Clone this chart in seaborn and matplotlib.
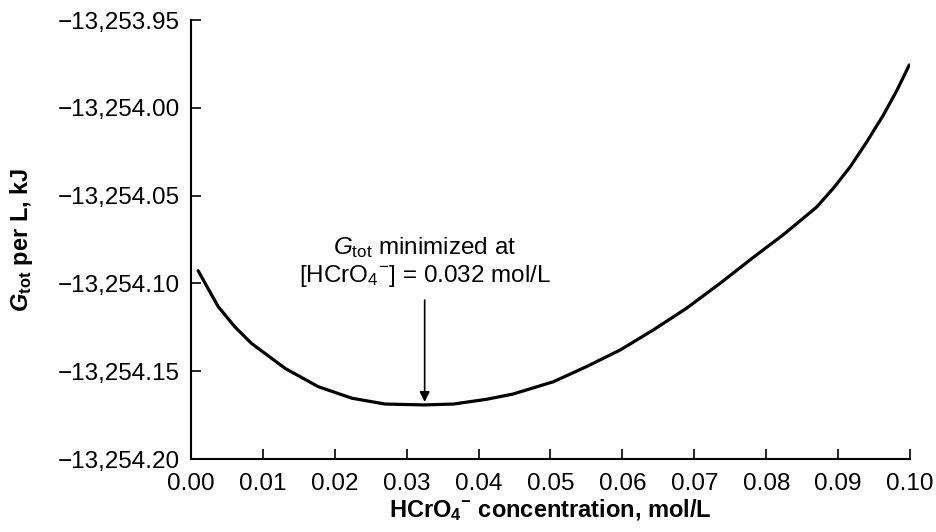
import matplotlib
matplotlib.use("Agg")
import matplotlib.pyplot as plt
from matplotlib.ticker import FuncFormatter, FixedLocator
import seaborn as sns
import pandas as pd

# Data
conc = [0.0010, 0.0038, 0.0061, 0.0084, 0.0131, 0.0177, 0.0224, 0.0270, 0.0325,
        0.0365, 0.0411, 0.0448, 0.0504, 0.0550, 0.0597, 0.0643, 0.0689, 0.0736,
        0.0782, 0.0824, 0.0870, 0.0893, 0.0917, 0.0940, 0.0963, 0.0982, 0.0999]
g_tot = [-13254.0928, -13254.1133, -13254.1247, -13254.1341, -13254.1484,
         -13254.1588, -13254.1654, -13254.1687, -13254.1692, -13254.1687,
         -13254.1660, -13254.1630, -13254.1560, -13254.1474, -13254.1379,
         -13254.1265, -13254.1142, -13254.0999, -13254.0852, -13254.0722,
         -13254.0566, -13254.0460, -13254.0335, -13254.0193, -13254.0041,
         -13253.9899, -13253.9756]
x_ticks = [0.00, 0.01, 0.02, 0.03, 0.04, 0.05, 0.06, 0.07, 0.08, 0.09, 0.10]
y_ticks = [-13254.20, -13254.15, -13254.10, -13254.05, -13254.00, -13253.95]
min_x = 0.0325
min_y = -13254.1692

sns.set_theme(style="ticks")
plt.rcParams["font.family"] = ["Liberation Sans", "DejaVu Sans"]
plt.rcParams["mathtext.fontset"] = "custom"
plt.rcParams["mathtext.rm"] = "Liberation Sans"
plt.rcParams["mathtext.it"] = "Liberation Sans:italic"
plt.rcParams["mathtext.bf"] = "Liberation Sans:bold"
try:
    plt.rcParams["mathtext.bfit"] = "Liberation Sans:italic:bold"
except KeyError:
    pass
plt.rcParams["text.color"] = "black"
plt.rcParams["axes.labelcolor"] = "black"
plt.rcParams["xtick.color"] = "black"
plt.rcParams["ytick.color"] = "black"

df = pd.DataFrame({"conc": conc, "g": g_tot})

fig = plt.figure(figsize=(9.37, 5.32), dpi=100)
ax = fig.add_axes([0.2038, 0.1372, 0.7674, 0.8252])
sns.lineplot(data=df, x="conc", y="g", ax=ax, color="black", linewidth=2.3)

ax.set_xlim(0.0, 0.10)
ax.set_ylim(-13254.20, -13253.95)
ax.xaxis.set_major_locator(FixedLocator(x_ticks))
ax.yaxis.set_major_locator(FixedLocator(y_ticks))
ax.xaxis.set_major_formatter(FuncFormatter(lambda v, p: f"{v:.2f}"))
ax.yaxis.set_major_formatter(FuncFormatter(lambda v, p: f"{v:,.2f}".replace("-", "\u2212")))

for s in ["top", "right"]:
    ax.spines[s].set_visible(False)
for s in ["left", "bottom"]:
    ax.spines[s].set_linewidth(1.5)
    ax.spines[s].set_color("black")
ax.tick_params(axis="both", direction="in", length=7, width=1.2, colors="black",
               labelcolor="black", labelsize=17.5)
ax.tick_params(axis="x", pad=10)
ax.tick_params(axis="y", pad=8)

ax.set_xlabel("HCrO$_\\mathbf{4}$$^{\\mathbf{-}}$ concentration, mol/L",
              fontsize=17, fontweight="bold", labelpad=2, color="black")
ax.set_ylabel("$\\mathbfit{G}_\\mathbf{tot}$ per L, kJ", fontsize=17,
              fontweight="bold", labelpad=16, color="black")

ax.annotate("", xy=(min_x, -13254.1675), xytext=(min_x, -13254.1095),
            arrowprops=dict(arrowstyle="-|>", color="black", lw=1.2,
                            mutation_scale=15, shrinkA=0, shrinkB=0))
ax.text(min_x, -13254.0798, "$\\mathit{G}_\\mathrm{tot}$ minimized at",
        ha="center", va="center", fontsize=17.5, color="black")
ax.text(min_x, -13254.0958, "[HCrO$_4$$^{-}$] = 0.032 mol/L",
        ha="center", va="center", fontsize=17.5, color="black")

fig.savefig("out.png", dpi=100, facecolor="white")
